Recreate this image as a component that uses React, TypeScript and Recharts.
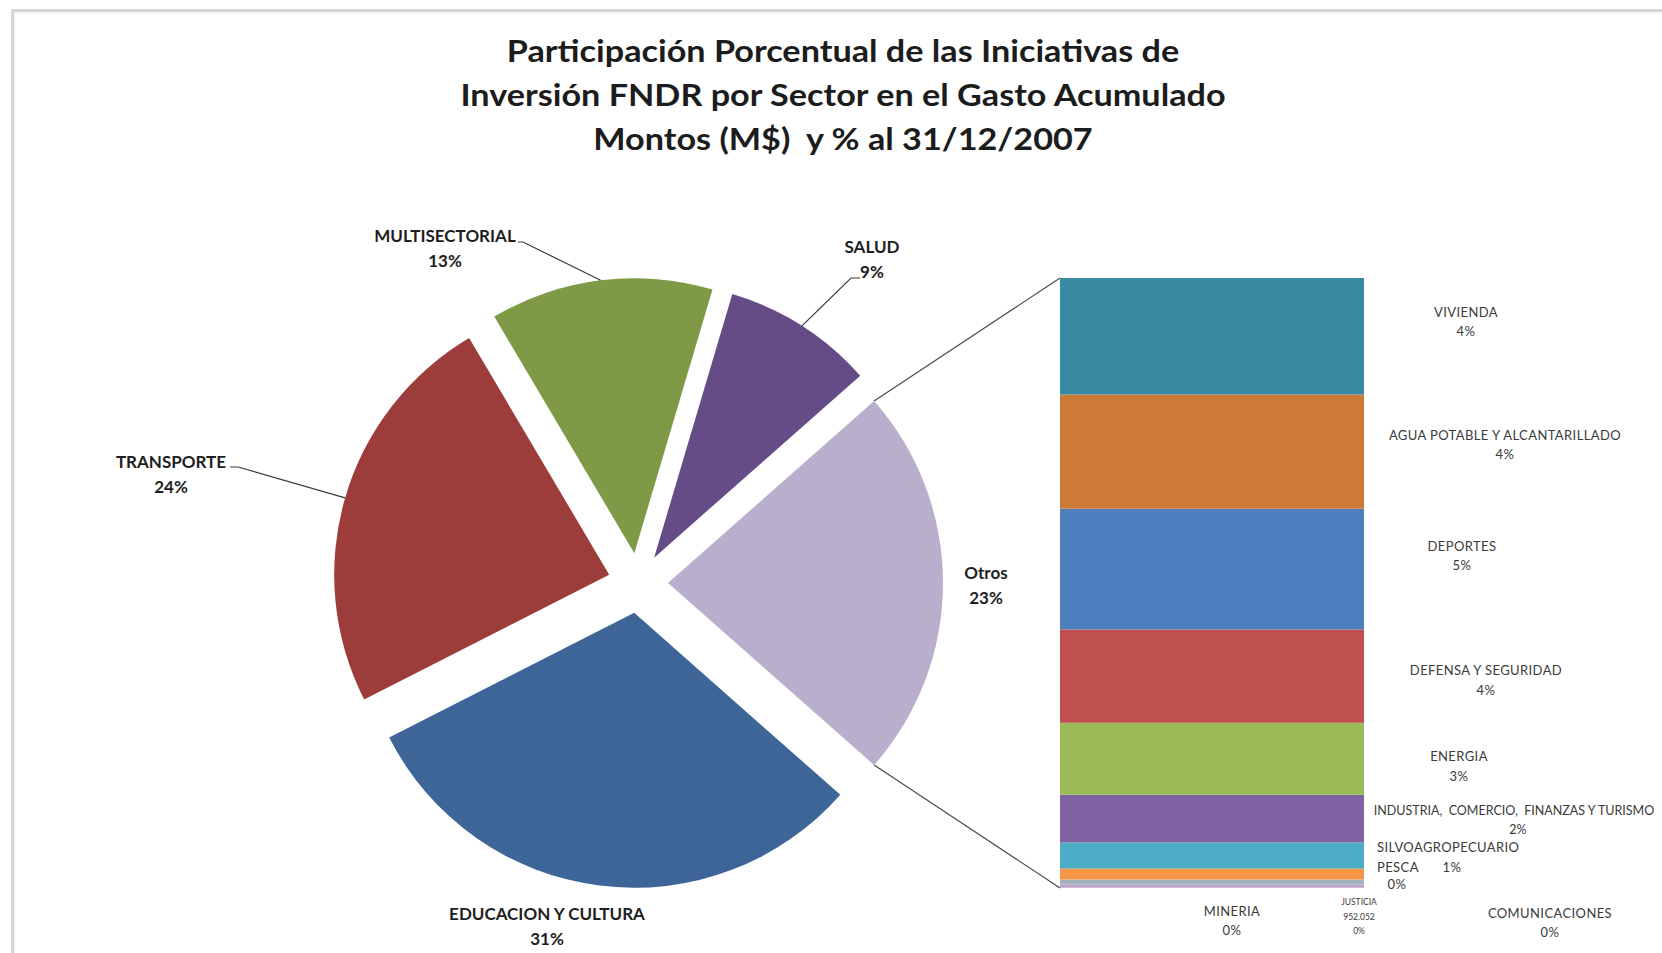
import { Bar, BarChart, Cell, Pie, PieChart, XAxis, YAxis } from 'recharts';

// Pie of bar: five sectors in the pie, the "Otros" slice broken out into a
// stacked bar on the right. Slices are drawn clockwise starting from SALUD.

const PIE_NAMES = ['SALUD', 'Otros', 'EDUCACION Y CULTURA', 'TRANSPORTE', 'MULTISECTORIAL'];
const PIE_COLORS = ['#654c86', '#b9afcc', '#3d6598', '#9d3d3b', '#7e9a46'];
// % of total; Otros comes from the sum of the bar below
const SALUD = 8.9;
const EDUCACION = 31.0;
const TRANSPORTE = 24.0;
const MULTISECTORIAL = 13.1;

// breakdown of "Otros", top of the bar first
const OTHER_NAMES = [
  'VIVIENDA',
  'AGUA POTABLE Y ALCANTARILLADO',
  'DEPORTES',
  'DEFENSA Y SEGURIDAD',
  'ENERGIA',
  'INDUSTRIA,  COMERCIO,  FINANZAS Y TURISMO',
  'SILVOAGROPECUARIO',
  'PESCA',
  'MINERIA',
  'JUSTICIA',
  'COMUNICACIONES',
];
const OTHER_VALUES = [4.4, 4.32, 4.56, 3.52, 2.72, 1.8, 0.98, 0.42, 0.19, 0.11, 0.02];
const OTHER_COLORS = [
  '#3a89a2', '#cd7a39', '#4e7fbd', '#c0504d', '#9bbb59', '#7f62a1',
  '#4bacc6', '#f79646', '#a4b3bb', '#b9a5d1', '#e3a7a7',
];

const TITLE = [
  'Participación Porcentual de las Iniciativas de',
  'Inversión FNDR por Sector en el Gasto Acumulado',
  'Montos (M$)  y % al 31/12/2007',
];

// ---- layout ----
const W = 1662;
const H = 953;
const PIE_CX = 638;
const PIE_CY = 583;
const PIE_R = 275;
const EXPLODE = 30;
const BAR_X = 1060;
const BAR_Y = 278;
const BAR_W = 304;
const BAR_H = 610;
const RAD = Math.PI / 180;

const LABEL_FONT = 'Lato, "Open Sans", sans-serif';
const PIE_LABEL_POS: Record<string, { x: number; y: number; lead?: [number, number, number] }> = {
  SALUD: { x: 872, y: 246, lead: [860, 851, 278] },
  Otros: { x: 986, y: 572 },
  'EDUCACION Y CULTURA': { x: 547, y: 913 },
  TRANSPORTE: { x: 171, y: 461, lead: [230, 238, 467] },
  MULTISECTORIAL: { x: 445, y: 235, lead: [518, 523, 242] },
};
const BAR_LABEL_POS: Record<
  string,
  { x: number; y: number; px: number; py: number; anchor?: string; size?: number; spacing?: number }
> = {
  VIVIENDA: { x: 1466, y: 312, px: 1466, py: 331 },
  'AGUA POTABLE Y ALCANTARILLADO': { x: 1505, y: 435, px: 1505, py: 454 },
  DEPORTES: { x: 1462, y: 546, px: 1462, py: 565 },
  'DEFENSA Y SEGURIDAD': { x: 1486, y: 670, px: 1486, py: 690 },
  ENERGIA: { x: 1459, y: 756, px: 1459, py: 776 },
  'INDUSTRIA,  COMERCIO,  FINANZAS Y TURISMO': { x: 1514, y: 810, px: 1518, py: 829, size: 12.5, spacing: 0 },
  SILVOAGROPECUARIO: { x: 1377, y: 847, px: 1452, py: 867, anchor: 'start' },
  PESCA: { x: 1377, y: 867, px: 1397, py: 884, anchor: 'start' },
  MINERIA: { x: 1232, y: 911, px: 1232, py: 930 },
  JUSTICIA: { x: 1359, y: 902, px: 1359, py: 931, size: 8.5, spacing: 0 },
  COMUNICACIONES: { x: 1550, y: 913, px: 1550, py: 932 },
};
const JUSTICIA_AMOUNT = '952.052';

const otrosTotal = OTHER_VALUES.reduce((a, b) => a + b, 0);
const PIE_VALUES = [SALUD, otrosTotal, EDUCACION, TRANSPORTE, MULTISECTORIAL];
const pieTotal = PIE_VALUES.reduce((a, b) => a + b, 0);

// Otros slice is centred on 3 o'clock
const START = ((SALUD + otrosTotal / 2) / pieTotal) * 360;

type Slice = { name: string; value: number; color: string; start: number; end: number; mid: number; cx: number; cy: number };
const slices: Slice[] = [];
{
  let a = START;
  PIE_NAMES.forEach((name, i) => {
    const sweep = (PIE_VALUES[i] / pieTotal) * 360;
    const start = a;
    const end = a - sweep;
    const mid = (start + end) / 2;
    slices.push({
      name,
      value: PIE_VALUES[i],
      color: PIE_COLORS[i],
      start,
      end,
      mid,
      cx: PIE_CX + EXPLODE * Math.cos(mid * RAD),
      cy: PIE_CY - EXPLODE * Math.sin(mid * RAD),
    });
    a = end;
  });
}

const pct = (v: number, total: number) => `${Math.round((v / total) * 100)}%`;

function pieLabel(s: Slice) {
  const pos = PIE_LABEL_POS[s.name];
  const ax = s.cx + PIE_R * Math.cos(s.mid * RAD);
  const ay = s.cy - PIE_R * Math.sin(s.mid * RAD);
  return (
    <g>
      {pos.lead && (
        <polyline
          points={`${pos.lead[0]},${pos.lead[2]} ${pos.lead[1]},${pos.lead[2]} ${ax},${ay}`}
          fill="none"
          stroke="#3a3a3a"
          strokeWidth={1.2}
        />
      )}
      <text x={pos.x} y={pos.y} textAnchor="middle" dominantBaseline="central" fontFamily={LABEL_FONT} fontWeight={700} fontSize={17} fill="#1e1e1e">
        {s.name}
      </text>
      <text x={pos.x} y={pos.y + 25} textAnchor="middle" dominantBaseline="central" fontFamily={LABEL_FONT} fontWeight={700} fontSize={17} fill="#1e1e1e">
        {pct(s.value, pieTotal)}
      </text>
    </g>
  );
}

const barRow: Record<string, string | number> = { cat: 'Otros' };
OTHER_VALUES.forEach((v, i) => {
  barRow[`s${i}`] = v;
});
const barData = [barRow];

export default function App() {
  const otros = slices[1];
  const up = { x: otros.cx + PIE_R * Math.cos(otros.start * RAD), y: otros.cy - PIE_R * Math.sin(otros.start * RAD) };
  const lo = { x: otros.cx + PIE_R * Math.cos(otros.end * RAD), y: otros.cy - PIE_R * Math.sin(otros.end * RAD) };

  return (
    <div style={{ position: 'absolute', left: 0, top: 0, width: W, height: H, overflow: 'hidden', background: '#fff' }}>
      <div
        style={{
          position: 'absolute',
          left: 11,
          top: 9,
          width: W + 40,
          height: H + 40,
          border: '3px solid #d6d6d6',
          boxShadow: 'inset 1px 1px 2px #eee',
        }}
      />
      <div
        style={{
          position: 'absolute',
          left: 343,
          top: 28,
          width: 1000,
          textAlign: 'center',
          fontFamily: LABEL_FONT,
          fontWeight: 700,
          fontSize: 30,
          lineHeight: '44px',
          color: '#1c1c1c',
          transform: 'scaleX(1.14)',
          transformOrigin: '500px 0',
        }}
      >
        {TITLE.map((t) => (
          <div key={t} style={{ whiteSpace: 'pre' }}>{t}</div>
        ))}
      </div>

      <div style={{ position: 'absolute', left: 0, top: 0 }}>
        <PieChart width={W} height={H} margin={{ top: 0, right: 0, bottom: 0, left: 0 }}>
          {slices.map((s) => (
            <Pie
              key={s.name}
              data={[s]}
              dataKey="value"
              nameKey="name"
              cx={s.cx}
              cy={s.cy}
              innerRadius={0}
              outerRadius={PIE_R}
              startAngle={s.start}
              endAngle={s.end}
              stroke="none"
              isAnimationActive={false}
              labelLine={false}
              label={() => pieLabel(s)}
            >
              <Cell fill={s.color} />
            </Pie>
          ))}
        </PieChart>
      </div>

      <svg style={{ position: 'absolute', left: 0, top: 0 }} width={W} height={H}>
        <line x1={up.x} y1={up.y} x2={BAR_X} y2={BAR_Y} stroke="#4a4a4a" strokeWidth={1.2} />
        <line x1={lo.x} y1={lo.y} x2={BAR_X} y2={BAR_Y + BAR_H} stroke="#4a4a4a" strokeWidth={1.2} />
        {OTHER_NAMES.map((n, i) => {
          const p = BAR_LABEL_POS[n];
          const fs = p.size ?? 13;
          return (
            <g key={n} fontFamily={LABEL_FONT} fill="#3a3a3a" fontSize={fs} letterSpacing={p.spacing ?? 0.4}>
              <text x={p.x} y={p.y} textAnchor={p.anchor ?? 'middle'} dominantBaseline="central" style={{ whiteSpace: 'pre' }}>
                {n}
              </text>
              {n === 'JUSTICIA' && (
                <text x={p.x} y={p.y + 15} textAnchor="middle" dominantBaseline="central">
                  {JUSTICIA_AMOUNT}
                </text>
              )}
              <text x={p.px} y={p.py} textAnchor="middle" dominantBaseline="central">
                {pct(OTHER_VALUES[i], pieTotal)}
              </text>
            </g>
          );
        })}
      </svg>

      <div style={{ position: 'absolute', left: BAR_X, top: BAR_Y }}>
        <BarChart width={BAR_W} height={BAR_H} data={barData} margin={{ top: 0, right: 0, bottom: 0, left: 0 }} barCategoryGap={0} barGap={0}>
          <XAxis dataKey="cat" hide />
          <YAxis type="number" hide domain={[0, otrosTotal]} />
          {OTHER_NAMES.map((n, i) => OTHER_NAMES.length - 1 - i).map((idx) => (
            <Bar key={idx} dataKey={`s${idx}`} stackId="otros" fill={OTHER_COLORS[idx]} isAnimationActive={false} />
          ))}
        </BarChart>
      </div>
    </div>
  );
}
